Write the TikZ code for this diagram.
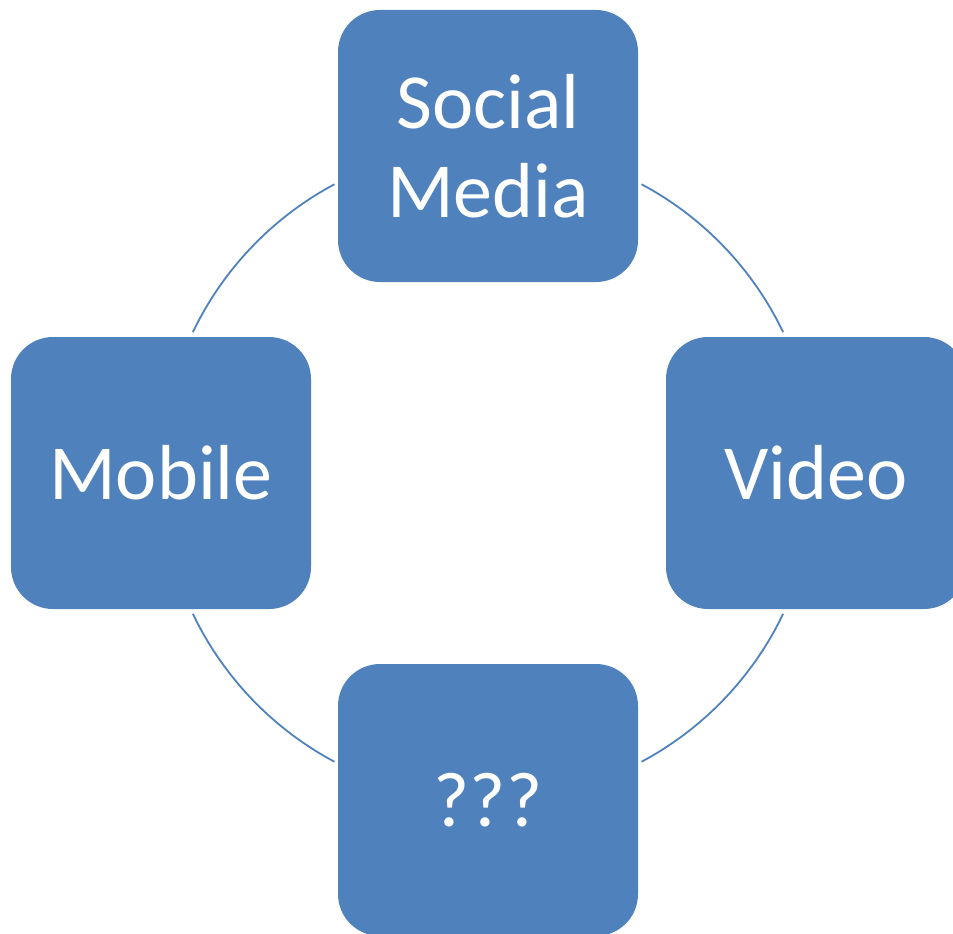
\documentclass[tikz,border=0pt]{standalone}
\usepackage{fontspec}
\setmainfont{Carlito}
\definecolor{tileblue}{HTML}{4F81BD}
\tikzset{tile/.style={rectangle,rounded corners=42pt,fill=tileblue,text=white,minimum width=300pt,minimum height=272pt,inner sep=0pt,align=center,font=\fontsize{78}{89}\selectfont},
  ring/.style={draw=tileblue,line width=1.8pt,bend right=18.25,looseness=0.87},
  node distance=327pt}

\begin{document}
\begin{tikzpicture}
              \useasboundingbox (0,0) rectangle (953pt,-934pt);
              \coordinate (c) at (488pt,-473pt);

              \node[tile] (social) [above of=c] {Social\\Media};
              \node[tile] (video) [right of=c,xshift=1pt] {Video};
              \node[tile] (unknown) [below of=c] {???};
              \node[tile] (mobile) [left of=c] {Mobile};

              % end points of the ring pieces
              \foreach \a/\n in {25.5/r1,62/r2,118/r3,154.5/r4,205.5/r5,242/r6,298/r7,334.5/r8}
                \path (c) ++(\a:327pt) coordinate (\n);

              \path
              (r1) edge[ring] (r2)
              (r3) edge[ring] (r4)
              (r5) edge[ring] (r6)
              (r7) edge[ring] (r8)
              ;
            \end{tikzpicture}
\end{document}
